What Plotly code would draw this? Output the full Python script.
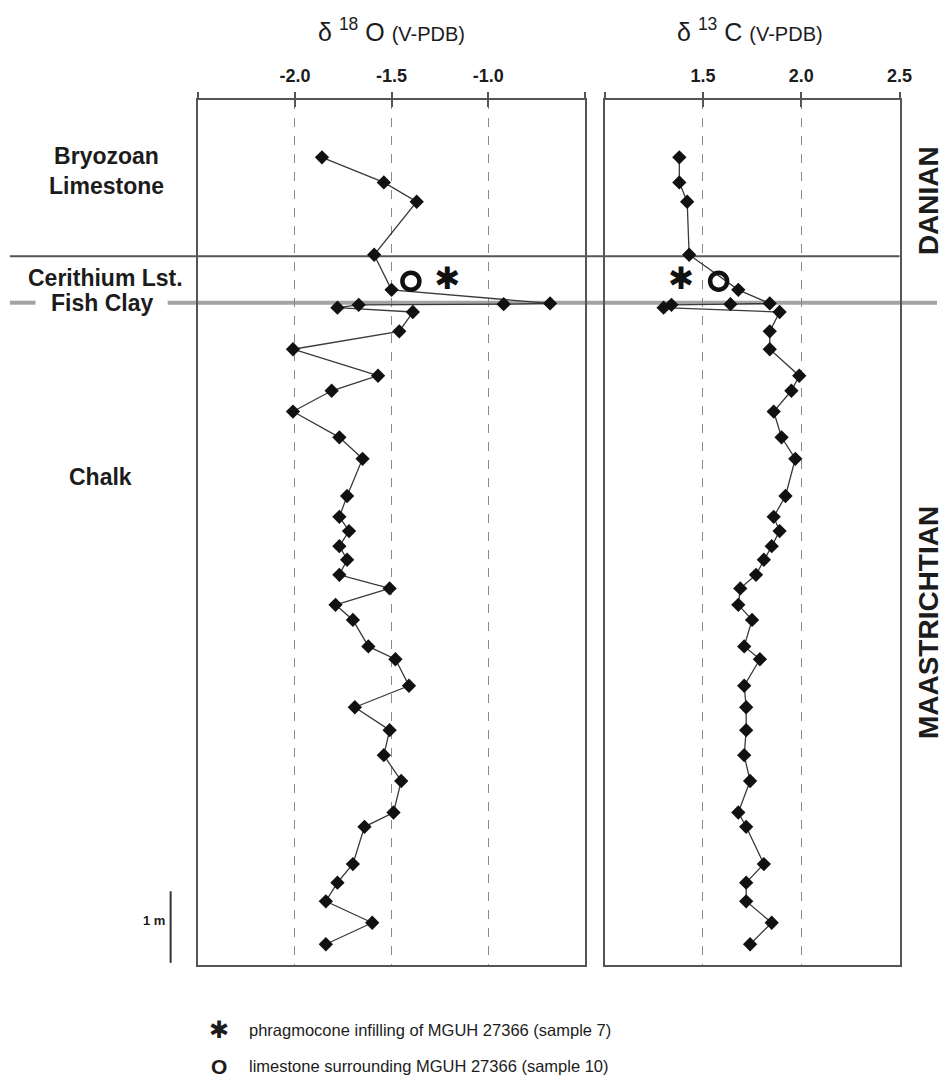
import plotly.graph_objects as go

# ---------------- data ----------------
# height above base of section (m), shared by both isotope curves
height_m = [11.28, 10.93, 10.66, 9.92, 9.43, 9.24, 9.23, 9.22, 9.18, 9.12,
            8.85, 8.60, 8.23, 8.02, 7.73, 7.37, 7.07, 6.55, 6.26, 6.06,
            5.85, 5.66, 5.45, 5.26, 5.03, 4.82, 4.45, 4.27, 3.90, 3.60,
            3.28, 2.93, 2.57, 2.13, 1.93, 1.41, 1.15, 0.89, 0.59, 0.29]

d18O = [-1.86, -1.54, -1.37, -1.59, -1.50, -0.68, -0.92, -1.67, -1.78, -1.39,
        -1.46, -2.01, -1.57, -1.81, -2.01, -1.77, -1.65, -1.73, -1.77, -1.72,
        -1.77, -1.73, -1.77, -1.51, -1.79, -1.70, -1.62, -1.48, -1.41, -1.69,
        -1.51, -1.54, -1.45, -1.49, -1.64, -1.70, -1.78, -1.84, -1.60, -1.84]

d13C = [1.38, 1.38, 1.42, 1.43, 1.68, 1.84, 1.64, 1.34, 1.30, 1.89,
        1.84, 1.84, 1.99, 1.95, 1.86, 1.90, 1.97, 1.92, 1.86, 1.89,
        1.85, 1.81, 1.77, 1.69, 1.68, 1.75, 1.71, 1.79, 1.71, 1.72,
        1.72, 1.71, 1.74, 1.68, 1.72, 1.81, 1.72, 1.72, 1.85, 1.74]

# MGUH 27366 samples
special_height = [9.55]
infill_d18O = [-1.21]      # sample 7, phragmocone infilling (asterisk)
limestone_d18O = [-1.40]   # sample 10, surrounding limestone (circle)
infill_d13C = [1.39]
limestone_d13C = [1.58]

# lithological boundaries (m)
danian_base = 9.90
fish_clay = 9.25

o_range = [-2.5, -0.5]
o_ticks_all = [-2.5, -2.0, -1.5, -1.0, -0.5]
o_labels = [-2.0, -1.5, -1.0]
o_labeltext = ["-2.0", "-1.5", "-1.0"]
c_range = [1.0, 2.5]
c_ticks_all = [1.0, 1.5, 2.0, 2.5]
c_labels = [1.5, 2.0, 2.5]
c_labeltext = ["1.5", "2.0", "2.5"]

# ---------------- layout helpers ----------------
W, H = 950, 1077
def fx(p):
    return p / W
def fy(p):
    return 1 - p / H

FONT = "Liberation Sans, Arial, sans-serif"
INK = "#1c1c1c"
FRAME = "#555555"
ydom = [fy(965), fy(100)]
yrange = [0, 865 / 71.6]

fig = go.Figure()

marker = dict(symbol="diamond", size=11, color="#111111", line=dict(width=0))
line = dict(color="#3a3a3a", width=1.3)

fig.add_trace(go.Scatter(x=d18O, y=height_m, mode="lines+markers", xaxis="x", yaxis="y",
                         marker=marker, line=line, showlegend=False, cliponaxis=False))
fig.add_trace(go.Scatter(x=d13C, y=height_m, mode="lines+markers", xaxis="x2", yaxis="y2",
                         marker=marker, line=line, showlegend=False, cliponaxis=False))

ring = dict(symbol="circle-open", size=17, color="#111111", line=dict(width=4.5, color="#111111"))
fig.add_trace(go.Scatter(x=limestone_d18O, y=special_height, mode="markers", xaxis="x", yaxis="y",
                         marker=ring, showlegend=False))
fig.add_trace(go.Scatter(x=limestone_d13C, y=special_height, mode="markers", xaxis="x2", yaxis="y2",
                         marker=ring, showlegend=False))
star_font = dict(family="DejaVu Sans", size=31, color="#111111")
fig.add_trace(go.Scatter(x=infill_d18O, y=special_height, mode="text", text=["✱"], xaxis="x", yaxis="y",
                         textfont=star_font, textposition="middle center", showlegend=False))
fig.add_trace(go.Scatter(x=infill_d13C, y=special_height, mode="text", text=["✱"], xaxis="x2", yaxis="y2",
                         textfont=star_font, textposition="middle center", showlegend=False))
# dummy traces for overlay tick axes (tick marks crossing the top axis line)
for xa, ya in (("x3", "y"), ("x4", "y2"), ("x5", "y"), ("x6", "y2")):
    fig.add_trace(go.Scatter(x=[None], y=[None], xaxis=xa, yaxis=ya, showlegend=False, hoverinfo="skip"))

xcommon = dict(side="top", ticks="", showline=True, linecolor=FRAME, linewidth=2, mirror=True,
               showgrid=True, gridcolor="#8a8a8a", griddash="dash", gridwidth=1, ticklabelstandoff=9,
               zeroline=False, tickfont=dict(family=FONT, size=18, color=INK), fixedrange=True)
ycommon = dict(domain=ydom, range=yrange, showline=True, linecolor=FRAME, linewidth=2, mirror=True,
               showgrid=False, zeroline=False, showticklabels=False, ticks="", fixedrange=True)
tickonly = dict(side="top", ticklen=7, tickwidth=1.5, tickcolor=FRAME, tickmode="array",
                showticklabels=False, showgrid=False, showline=False, zeroline=False, fixedrange=True)

fig.update_layout(
    width=W, height=H, margin=dict(l=0, r=0, t=0, b=0), autosize=False,
    paper_bgcolor="white", plot_bgcolor="white",
    xaxis=dict(domain=[fx(201), fx(593)], range=o_range, anchor="y",
               tickmode="array", tickvals=o_labels, ticktext=["<b>%s</b>" % t for t in o_labeltext], **xcommon),
    yaxis=dict(anchor="x", **ycommon),
    xaxis2=dict(domain=[fx(613), fx(912)], range=c_range, anchor="y2",
                tickmode="array", tickvals=c_labels, ticktext=["<b>%s</b>" % t for t in c_labeltext], **xcommon),
    yaxis2=dict(anchor="x2", **ycommon),
    xaxis3=dict(overlaying="x", anchor="y", range=o_range, tickvals=o_ticks_all, ticks="outside", **tickonly),
    xaxis5=dict(overlaying="x", anchor="y", range=o_range, tickvals=o_ticks_all, ticks="inside", **tickonly),
    xaxis4=dict(overlaying="x2", anchor="y2", range=c_range, tickvals=c_ticks_all, ticks="outside", **tickonly),
    xaxis6=dict(overlaying="x2", anchor="y2", range=c_range, tickvals=c_ticks_all, ticks="inside", **tickonly),
    showlegend=False,
)

shapes = [
    dict(type="line", xref="paper", yref="y", x0=fx(10), x1=fx(912), y0=danian_base, y1=danian_base,
         line=dict(color=FRAME, width=2), layer="below"),
    dict(type="line", xref="paper", yref="y", x0=fx(10), x1=fx(36), y0=fish_clay, y1=fish_clay,
         line=dict(color="#a3a3a3", width=4), layer="below"),
    dict(type="line", xref="paper", yref="y", x0=fx(170), x1=1, y0=fish_clay, y1=fish_clay,
         line=dict(color="#a3a3a3", width=4), layer="below"),
    dict(type="line", xref="paper", yref="y", x0=fx(173), x1=fx(173), y0=0.03, y1=1.03,
         line=dict(color="#333333", width=2)),
]
fig.update_layout(shapes=shapes)

def ann(text, x, y, size, xanchor="center", angle=0, family=FONT):
    return dict(text=text, x=fx(x), y=fy(y), xref="paper", yref="paper", showarrow=False,
                xanchor=xanchor, yanchor="middle", textangle=angle,
                font=dict(family=family, size=size, color=INK))

annotations = [
    ann("δ <sup>18</sup> O <span style='font-size:20px'>(V-PDB)</span>", 397, 30, 25),
    ann("δ <sup>13</sup> C <span style='font-size:20px'>(V-PDB)</span>", 760, 30, 25),
    ann("<b>Bryozoan<br>Limestone</b>", 108, 171, 23),
    ann("<b>Cerithium Lst.</b>", 107, 278, 23),
    ann("<b>Fish Clay</b>", 103, 303, 23),
    ann("<b>Chalk</b>", 102, 477, 23),
    ann("<b>1 m</b>", 169, 920, 13, xanchor="right"),
    ann("<b>DANIAN</b>", 941, 201, 28, angle=-90),
    ann("<b>MAASTRICHTIAN</b>", 941, 623, 28, angle=-90),
    ann("✱", 222, 1030, 24, family="DejaVu Sans"),
    ann("phragmocone infilling of MGUH 27366 (sample 7)", 250, 1030, 16.5, xanchor="left"),
    ann("<b>O</b>", 222, 1066, 21),
    ann("limestone surrounding MGUH 27366 (sample 10)", 250, 1066, 16.5, xanchor="left"),
]
fig.update_layout(annotations=annotations)

fig.write_html(
    "out.html",
    config={"displayModeBar": False, "responsive": False},
    post_script=("document.documentElement.style.overflow='hidden';"
                 "document.body.style.overflow='hidden';"
                 "document.body.style.margin='0';"),
)
